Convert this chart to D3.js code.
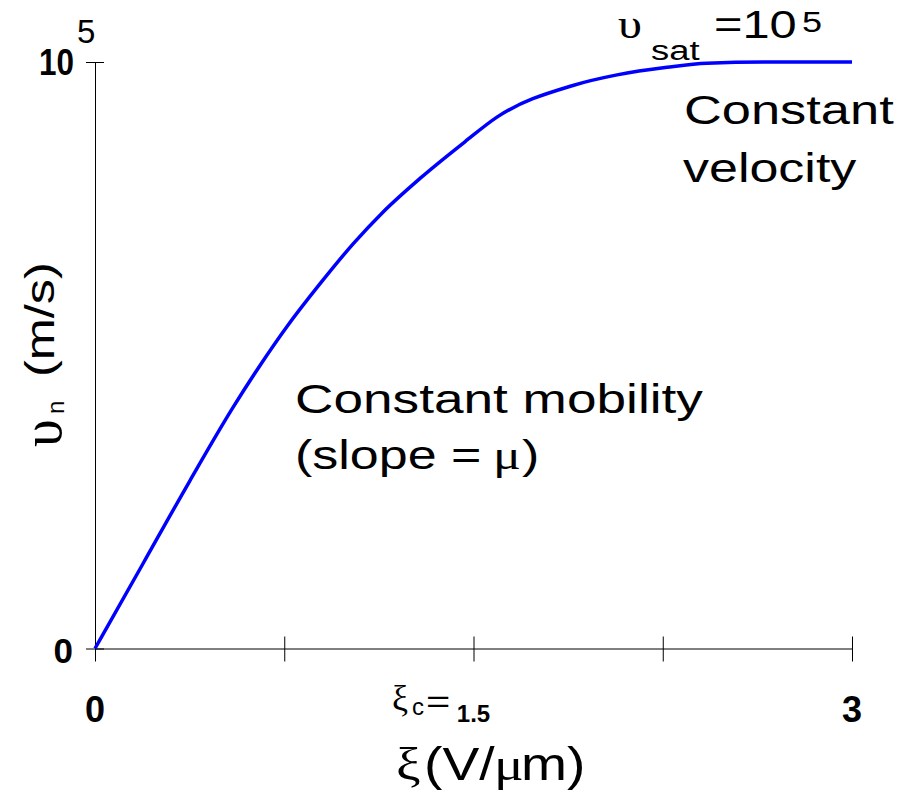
<!DOCTYPE html>
<html>
<head>
<meta charset="utf-8">
<script src="https://cdn.jsdelivr.net/npm/d3@7"></script>
<style>
  body { margin: 0; background: #fff; }
</style>
</head>
<body>
<script>
// velocity vs field
var field = [0, 0.19, 0.376, 0.547, 0.65, 0.761, 0.892, 1.022, 1.141, 1.288, 1.466, 1.593, 1.894, 2.069, 2.267, 2.425, 2.687, 3.0];
var velocity = [0, 14450, 28600, 41100, 48000, 54900, 62200, 68950, 74400, 80150, 86400, 90600, 96000, 97800, 99100, 99800, 100000, 100000];

var xTicks = [0, 0.75, 1.5, 2.25, 3];
var xLabels = [0, 1.5, 3];
var xLabelText = ["0", "1.5", "3"];
var yTicks = [0, 100000];

var sans = "'Liberation Sans', Arial, sans-serif";
var narrow = "'Liberation Sans Narrow', 'Arial Narrow', 'Liberation Sans', sans-serif";
var serif = "'Liberation Serif', 'DejaVu Serif', serif";

var svg = d3.select("body")
    .append("svg")
    .attr("width", 899)
    .attr("height", 796);

var x = d3.scaleLinear()
    .domain([0, 3])
    .range([95, 852]);

var y = d3.scaleLinear()
    .domain([0, 100000])
    .range([648.5, 62]);

// x axis, ticks cross the line
var xAxis = d3.axisBottom(x)
    .tickValues(xTicks)
    .tickSize(13)
    .tickSizeOuter(0)
    .tickFormat("");

var gx = svg.append("g")
    .attr("transform", "translate(0," + y(0) + ")")
    .call(xAxis);
gx.selectAll(".tick line").attr("y1", -12).attr("stroke", "#000");
gx.select(".domain").attr("stroke", "#000");

var yAxis = d3.axisLeft(y)
    .tickValues(yTicks)
    .tickSize(9)
    .tickSizeOuter(0)
    .tickFormat("");

var gy = svg.append("g")
    .attr("transform", "translate(" + x(0) + ",0)")
    .call(yAxis);
gy.selectAll(".tick line").attr("x2", -9).attr("x1", 9).attr("stroke", "#000");
gy.select(".domain").attr("stroke", "#000");

// curve
var line = d3.line()
    .x(function (d, i) { return x(field[i]); })
    .y(function (d, i) { return y(velocity[i]); })
    .curve(d3.curveMonotoneX);

svg.append("path")
    .datum(field)
    .attr("d", line)
    .attr("fill", "none")
    .attr("stroke", "#0000ff")
    .attr("stroke-width", 3.5);

// text helper: stretched horizontally like the original slide
function txt(px, py, s, o) {
    var tr = "translate(" + px + "," + py + ")";
    if (o.rot) tr += " rotate(" + o.rot + ")";
    tr += " scale(" + (o.sx || 1) + ",1)";
    var t = svg.append("g")
        .attr("transform", tr)
        .append("text")
        .attr("text-anchor", o.anchor || "start")
        .style("font-family", o.font || sans)
        .style("font-size", o.size + "px")
        .style("font-weight", o.weight || "normal")
        .attr("fill", "#000")
        .text(s);
    return t;
}

// tick labels
xLabels.forEach(function (v, i) {
    txt(x(v), 722, xLabelText[i], {font: narrow, weight: "bold", size: i == 1 ? 24 : 36, anchor: "middle"});
});
txt(73, 663, "0", {font: narrow, weight: "bold", size: 35, anchor: "end"});
txt(74, 75, "10", {font: narrow, weight: "bold", size: 37, anchor: "end", sx: 0.85});
txt(77, 43, "5", {font: narrow, size: 33});

// critical field mark
txt(392, 710, "\u03be", {font: serif, size: 36});
txt(412, 715, "c", {font: sans, size: 24});
txt(426, 712, "=", {font: sans, size: 32, sx: 1.3});

// axis titles
txt(396, 780, "\u03be", {font: serif, size: 46, sx: 1.2});
txt(424, 780, "(V/", {font: sans, size: 46, sx: 1.2});
txt(494, 780, "\u03bc", {font: serif, size: 46, sx: 1.2});
txt(521, 780, "m)", {font: sans, size: 46, sx: 1.2});

txt(61, 447, "\u03c5", {font: serif, size: 56, rot: -90});
txt(64, 414, "n", {font: sans, size: 24, rot: -90});
txt(54, 377, "(m/s)", {font: sans, size: 40, rot: -90, sx: 1.26});

// annotations
txt(295, 413, "Constant mobility", {size: 40, sx: 1.33});
txt(295, 469, "(slope =", {size: 40, sx: 1.3});
txt(493, 469, "\u03bc", {font: serif, size: 40, sx: 1.3});
txt(522, 469, ")", {size: 40, sx: 1.3});

txt(684, 124, "Constant", {size: 40, sx: 1.31});
txt(683, 182, "velocity", {size: 40, sx: 1.3});

txt(618, 38, "\u03c5", {font: serif, size: 42, sx: 1.15});
txt(651, 60, "sat", {size: 28, sx: 1.3});
txt(714, 38, "=10", {size: 39, sx: 1.25});
txt(802, 32, "5", {size: 30, sx: 1.2});
</script>
</body>
</html>
